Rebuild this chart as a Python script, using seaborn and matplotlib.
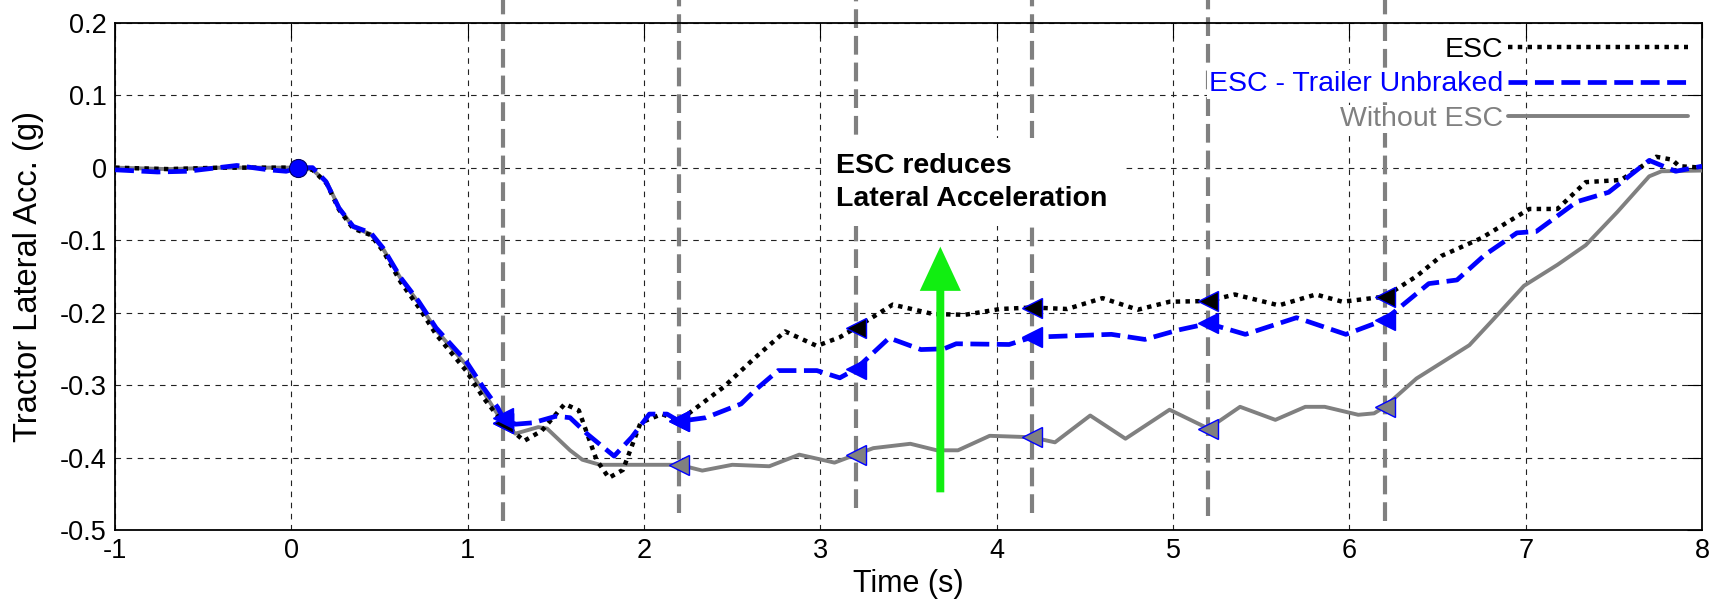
import numpy as np
import pandas as pd
import matplotlib
matplotlib.use("Agg")
import matplotlib.pyplot as plt
import seaborn as sns
from matplotlib import font_manager

# ---------------- data ----------------
t_without = [-1, -0.7, -0.4, -0.1, 0.0, 0.05, 0.12, 0.2, 0.27, 0.35, 0.45, 0.52, 0.62, 0.72, 0.82,
             0.99, 1.09, 1.2, 1.27, 1.4, 1.45, 1.58, 1.65, 1.75, 2.0, 2.2, 2.33, 2.5, 2.71, 2.88,
             3.08, 3.2, 3.3, 3.51, 3.66, 3.78, 3.96, 4.2, 4.33, 4.53, 4.73, 4.98, 5.2, 5.38, 5.58,
             5.75, 5.86, 6.05, 6.14, 6.2, 6.38, 6.68, 6.81, 6.99, 7.18, 7.34, 7.52, 7.70, 7.77, 8.0]
g_without = [0.0, -0.002, 0.0, 0.0, 0.0, 0.0, -0.003, -0.02, -0.055, -0.082, -0.092, -0.112, -0.153,
             -0.186, -0.224, -0.272, -0.31, -0.352, -0.367, -0.358, -0.36, -0.39, -0.403, -0.41,
             -0.41, -0.41, -0.418, -0.41, -0.412, -0.396, -0.407, -0.396, -0.387, -0.381, -0.39,
             -0.39, -0.37, -0.372, -0.379, -0.342, -0.374, -0.334, -0.36, -0.33, -0.348, -0.33,
             -0.33, -0.341, -0.339, -0.33, -0.291, -0.245, -0.211, -0.163, -0.134, -0.107, -0.061,
             -0.012, -0.005, -0.004]

t_esc = [-1, -0.7, -0.4, -0.1, 0.0, 0.05, 0.12, 0.2, 0.27, 0.35, 0.45, 0.52, 0.62, 0.72, 0.82, 0.99,
         1.09, 1.2, 1.32, 1.42, 1.55, 1.63, 1.73, 1.8, 1.88, 1.98, 2.1, 2.2, 2.45, 2.63, 2.8, 2.98,
         3.11, 3.2, 3.41, 3.64, 3.82, 4.02, 4.2, 4.4, 4.6, 4.8, 4.98, 5.2, 5.35, 5.6, 5.81, 5.96,
         6.2, 6.38, 6.52, 6.75, 7.02, 7.18, 7.34, 7.54, 7.74, 7.83, 7.87, 8.0]
g_esc = [0.0, -0.002, 0.0, 0.0, 0.0, 0.0, -0.003, -0.022, -0.058, -0.084, -0.093, -0.115, -0.158,
         -0.192, -0.23, -0.28, -0.318, -0.352, -0.377, -0.363, -0.326, -0.335, -0.403, -0.428,
         -0.417, -0.352, -0.34, -0.349, -0.303, -0.262, -0.226, -0.246, -0.234, -0.221, -0.189,
         -0.202, -0.203, -0.195, -0.193, -0.195, -0.18, -0.196, -0.185, -0.184, -0.175, -0.19,
         -0.175, -0.185, -0.178, -0.15, -0.122, -0.097, -0.057, -0.057, -0.02, -0.017, 0.015,
         0.011, 0.002, 0.0]

t_unbraked = [-1, -0.76, -0.59, -0.31, -0.13, -0.03, 0.05, 0.12, 0.195, 0.27, 0.35, 0.45, 0.52, 0.62,
              0.72, 0.82, 0.99, 1.09, 1.17, 1.2, 1.27, 1.37, 1.5, 1.58, 1.68, 1.83, 1.93, 2.03, 2.13,
              2.2, 2.35, 2.55, 2.63, 2.76, 2.98, 3.11, 3.2, 3.39, 3.57, 3.70, 3.77, 4.07, 4.2, 4.65,
              4.84, 5.03, 5.2, 5.41, 5.70, 5.98, 6.2, 6.45, 6.61, 6.77, 6.95, 7.06, 7.29, 7.47,
              7.70, 7.85, 8.0]
g_unbraked = [-0.003, -0.006, -0.005, 0.003, -0.003, -0.005, 0.0, 0.0, -0.019, -0.056, -0.081, -0.09,
              -0.111, -0.152, -0.184, -0.221, -0.267, -0.304, -0.331, -0.345, -0.354, -0.352,
              -0.343, -0.345, -0.368, -0.398, -0.372, -0.34, -0.34, -0.35, -0.345, -0.326, -0.307,
              -0.28, -0.28, -0.29, -0.278, -0.235, -0.251, -0.25, -0.243, -0.244, -0.234, -0.230,
              -0.237, -0.224, -0.215, -0.23, -0.207, -0.23, -0.21, -0.16, -0.155, -0.12, -0.09,
              -0.088, -0.047, -0.034, 0.01, -0.005, 0.002]

marker_times = [1.2, 2.2, 3.2, 4.2, 5.2, 6.2]

vline_x = [1.2, 2.2, 3.2, 4.2, 5.2, 6.2]
vline_bottom = [-0.487, -0.477, -0.47, -0.477, -0.481, -0.487]
vline_top = 0.232

start_dot_t = [0.04]
start_dot_g = [0.0]

arrow_t = 3.68
arrow_from = -0.448
arrow_to = -0.109

annot_text = "ESC reduces\nLateral Acceleration"
annot_t, annot_g = 3.09, -0.02

x_ticks = [-1, 0, 1, 2, 3, 4, 5, 6, 7, 8]
x_ticklabels = ["-1", "0", "1", "2", "3", "4", "5", "6", "7", "8"]
y_ticks = [-0.5, -0.4, -0.3, -0.2, -0.1, 0.0, 0.1, 0.2]
y_ticklabels = ["-0.5", "-0.4", "-0.3", "-0.2", "-0.1", "0", "0.1", "0.2"]

# ---------------- style ----------------
sns.set_theme(style="white")
plt.rcParams["font.family"] = ["Liberation Sans", "DejaVu Sans"]

available = {f.name for f in font_manager.fontManager.ttflist}
if "Liberation Sans Narrow" in available:
    annot_family = ["Liberation Sans Narrow", "Liberation Sans"]
    annot_size = 24
else:
    annot_family = ["Liberation Sans", "DejaVu Sans"]
    annot_size = 20.5

GRAY = "#808080"
BLUE = "#0000ff"

fig = plt.figure(figsize=(17.28, 6.10), dpi=100)
ax = fig.add_axes([0.0666, 0.1311, 0.9184, 0.8317])

df_w = pd.DataFrame({"t": t_without, "g": g_without})
df_e = pd.DataFrame({"t": t_esc, "g": g_esc})
df_u = pd.DataFrame({"t": t_unbraked, "g": g_unbraked})

# vertical event lines
for xv, yb in zip(vline_x, vline_bottom):
    ax.plot([xv, xv], [yb, vline_top], color=GRAY, lw=3.0, ls=(0, (4.5, 1.9)),
            clip_on=False, zorder=1.8, solid_capstyle="butt")

sns.lineplot(data=df_w, x="t", y="g", ax=ax, color=GRAY, lw=2.8, sort=False,
             estimator=None, label="Without ESC", zorder=3)
sns.lineplot(data=df_e, x="t", y="g", ax=ax, color="black", lw=3.2, sort=False,
             estimator=None, label="ESC", linestyle=(0, (1, 1.2)), zorder=3.2)
sns.lineplot(data=df_u, x="t", y="g", ax=ax, color=BLUE, lw=3.4, sort=False,
             estimator=None, label="ESC - Trailer Unbraked", linestyle=(0, (4, 1.6)), zorder=3.4)

# event markers
for df, fc in ((df_w, GRAY), (df_e, "black"), (df_u, BLUE)):
    sub = df[df["t"].isin(marker_times)]
    ax.plot(sub["t"], sub["g"], linestyle="none", marker="<", ms=15, mfc=fc,
            mec=BLUE, mew=1.0, zorder=5, label="_nolegend_")

ax.plot(start_dot_t, start_dot_g, linestyle="none", marker="o", ms=13, mfc=BLUE,
        mec="#000060", mew=0.8, zorder=6, label="_nolegend_")

# annotation
ax.text(annot_t, annot_g, annot_text, fontsize=annot_size, fontweight="bold",
        family=annot_family, ha="left", va="center", linespacing=1.35, color="black",
        bbox=dict(boxstyle="square,pad=0.5", fc="white", ec="none"), zorder=4)
ax.arrow(arrow_t, arrow_from, 0, arrow_to - arrow_from, width=0.045, head_width=0.233,
         head_length=0.061, length_includes_head=True, fc="#11ee11", ec="none", zorder=6)

# axes
ax.set_xlim(-1, 8)
ax.set_ylim(-0.5, 0.2)
ax.set_xticks(x_ticks)
ax.set_xticklabels(x_ticklabels)
ax.set_yticks(y_ticks)
ax.set_yticklabels(y_ticklabels)
ax.grid(True, color="#222222", linestyle=(0, (5, 5)), linewidth=0.8)
ax.set_axisbelow(True)
ax.tick_params(direction="in", length=11, width=0.8, top=True, right=True,
               labelsize=19.5, pad=6, colors="black")
for sp in ax.spines.values():
    sp.set_visible(True)
    sp.set_color("black")
    sp.set_linewidth(1.3)
ax.set_xlabel("Time (s)", fontsize=22, labelpad=3, color="black")
ax.set_ylabel("Tractor Lateral Acc. (g)", fontsize=23.5, labelpad=11, color="black")

handles, labels = ax.get_legend_handles_labels()
order = [labels.index("ESC"), labels.index("ESC - Trailer Unbraked"), labels.index("Without ESC")]
leg = ax.legend([handles[i] for i in order], [labels[i] for i in order], loc="upper right",
                frameon=False, markerfirst=False, labelcolor="linecolor", fontsize=20.5,
                handlelength=6.3, handletextpad=0.2, labelspacing=0.3,
                borderaxespad=0.3, borderpad=0.2)
leg.set_zorder(7)
for txt in leg.get_texts():
    txt.set_bbox(dict(facecolor="white", edgecolor="none", pad=1))

fig.savefig("out.png", dpi=100)
